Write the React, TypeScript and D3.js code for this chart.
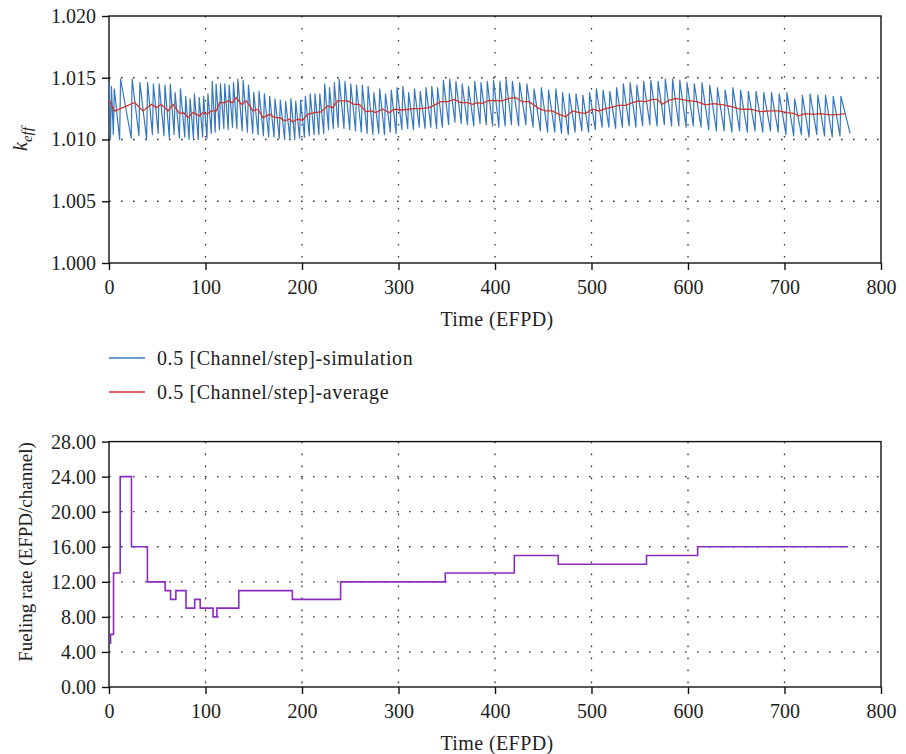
import React, { useEffect, useRef } from "react";
import * as d3 from "d3";

// k_eff simulation: sawtooth peaks (just after each refuelling) and troughs (just before)
const peakDays = [0, 2.5, 5.5, 12, 24, 32, 40, 46, 52, 58, 63.5, 68.5, 74, 79.5, 84, 88.5, 93.5, 98, 102.5, 107, 111, 115.5, 120, 124.5, 129, 133.5, 139, 144.5, 150, 155.5, 161, 166.5, 172, 177.5, 183, 188.5, 193.5, 198.5, 203.5, 208.5, 213.5, 218.5, 223.5, 228.5, 233.5, 238.5, 244.5, 250.5, 256.5, 262.5, 268.5, 274.5, 280.5, 286.5, 292.5, 298.5, 304.5, 310.5, 316.5, 322.5, 328.5, 334.5, 340.5, 346.5, 353, 359.5, 366, 372.5, 379, 385.5, 392, 398.5, 405, 411.5, 418, 425.5, 433, 440.5, 448, 455.5, 463, 470, 477, 484, 491, 498, 505, 512, 519, 526, 533, 540, 547, 554, 561.5, 569, 576.5, 584, 591.5, 599, 606.5, 614.5, 622.5, 630.5, 638.5, 646.5, 654.5, 662.5, 670.5, 678.5, 686.5, 694.5, 702.5, 710.5, 718.5, 726.5, 734.5, 742.5, 750.5, 758.5];
const peakK = [1.0146, 1.0143, 1.0141, 1.0149, 1.0149, 1.0146, 1.0146, 1.0145, 1.0145, 1.0144,
  1.0145, 1.0138, 1.0141, 1.0135, 1.0133, 1.0137, 1.0134, 1.0135, 1.0137, 1.0147,
  1.0145, 1.0145, 1.0145, 1.0144, 1.0146, 1.0149, 1.0148, 1.0144, 1.0138, 1.0139,
  1.0137, 1.0135, 1.0133, 1.0132, 1.0131, 1.0133, 1.0131, 1.0132, 1.0135, 1.0137,
  1.0137, 1.0137, 1.0145, 1.0142, 1.0146, 1.0149, 1.0147, 1.0145, 1.0144, 1.0144,
  1.0143, 1.0138, 1.0141, 1.0137, 1.014, 1.0142, 1.0143, 1.0138, 1.0141, 1.0139,
  1.0142, 1.0143, 1.0142, 1.0148, 1.0149, 1.0147, 1.0145, 1.0143, 1.0147, 1.0146,
  1.0147, 1.0148, 1.0147, 1.0149, 1.0147, 1.0146, 1.0145, 1.0141, 1.0142, 1.014,
  1.0141, 1.0138, 1.0137, 1.0137, 1.0136, 1.0138, 1.0141, 1.014, 1.0139, 1.0142,
  1.0145, 1.0146, 1.0144, 1.0147, 1.0148, 1.0147, 1.0149, 1.0149, 1.0148, 1.0146,
  1.0145, 1.0146, 1.0144, 1.0142, 1.014, 1.0142, 1.014, 1.0139, 1.0139, 1.0138,
  1.0138, 1.0137, 1.0138, 1.0133, 1.0136, 1.0137, 1.0136, 1.0136, 1.0135, 1.0135];
const troughDays = [1.5, 4.5, 11, 23, 31, 39, 45, 51, 57, 62.5, 67.5, 73, 78.5, 83, 87.5, 92.5, 97, 101.5, 106, 110, 114.5, 119, 123.5, 128, 132.5, 138, 143.5, 149, 154.5, 160, 165.5, 171, 176.5, 182, 187.5, 192.5, 197.5, 202.5, 207.5, 212.5, 217.5, 222.5, 227.5, 232.5, 237.5, 243.5, 249.5, 255.5, 261.5, 267.5, 273.5, 279.5, 285.5, 291.5, 297.5, 303.5, 309.5, 315.5, 321.5, 327.5, 333.5, 339.5, 345.5, 352, 358.5, 365, 371.5, 378, 384.5, 391, 397.5, 404, 410.5, 417, 424.5, 432, 439.5, 447, 454.5, 462, 469, 476, 483, 490, 497, 504, 511, 518, 525, 532, 539, 546, 553, 560.5, 568, 575.5, 583, 590.5, 598, 605.5, 613.5, 621.5, 629.5, 637.5, 645.5, 653.5, 661.5, 669.5, 677.5, 685.5, 693.5, 701.5, 709.5, 717.5, 725.5, 733.5, 741.5, 749.5, 757.5, 768];
const troughK = [1.0101, 1.0104, 1.01, 1.0101, 1.0103, 1.01, 1.0104, 1.0105, 1.0103, 1.0101,
  1.0104, 1.0101, 1.0102, 1.01, 1.0101, 1.01, 1.0102, 1.0101, 1.0105, 1.0106,
  1.0108, 1.0109, 1.0108, 1.011, 1.0109, 1.0107, 1.0106, 1.0105, 1.0104, 1.0103,
  1.0102, 1.0102, 1.0101, 1.01, 1.0101, 1.01, 1.0101, 1.0102, 1.0103, 1.0104,
  1.0104, 1.0105, 1.0108, 1.0109, 1.011, 1.0109, 1.0108, 1.0107, 1.0106, 1.0105,
  1.0104, 1.0105, 1.0104, 1.0106, 1.0105, 1.0108, 1.0109, 1.0108, 1.011, 1.0109,
  1.011, 1.0109, 1.011, 1.0112, 1.0114, 1.0113, 1.0112, 1.0111, 1.0113, 1.0112,
  1.0111, 1.011, 1.0111, 1.0112, 1.0111, 1.0112, 1.011, 1.0107, 1.0106, 1.0106,
  1.0105, 1.0104, 1.0106, 1.0107, 1.0106, 1.0108, 1.011, 1.011, 1.0109, 1.011,
  1.0111, 1.011, 1.0111, 1.0112, 1.0111, 1.0112, 1.0111, 1.0111, 1.011, 1.0111,
  1.011, 1.0108, 1.0107, 1.0107, 1.0106, 1.0107, 1.0106, 1.0107, 1.0106, 1.0107,
  1.0106, 1.0104, 1.0103, 1.0104, 1.0102, 1.0104, 1.0103, 1.0102, 1.0103, 1.0105];

// k_eff running average
const averageDays = [0, 5.9, 26.6, 35.2, 43.9, 49, 54.2, 61.1, 66.3, 73.2, 77.4, 81.8, 87, 93.9, 97.4, 101.5, 106, 111.2, 114.6, 119.8, 123.3, 127.8, 131.9, 137.1, 142.3, 149.2, 154.4, 159.6, 166.5, 171.7, 176.9, 182.1, 187.3, 190.3, 195.5, 200.6, 205.8, 212.7, 219.6, 226.5, 231.7, 236.9, 247.3, 254.2, 259.4, 266.3, 271.5, 276.6, 283.5, 290.4, 295.6, 304.3, 316.4, 323.3, 331.9, 338.8, 344, 350.9, 357.8, 364.7, 371.6, 376.8, 382, 386.9, 393.8, 407.6, 414.5, 421.4, 428.4, 435.3, 445.6, 452.5, 459.4, 466.4, 473.3, 480.2, 487.1, 494, 500.9, 507.8, 514.7, 521.6, 528.5, 535.4, 542.3, 549.2, 556.2, 563.1, 568.2, 573.4, 580.3, 587.2, 599, 609.3, 618, 626.6, 637, 647.3, 654.2, 664.6, 675, 685.3, 694, 702.6, 709.5, 714.7, 721.6, 730.2, 737.1, 747.5, 757.9, 763];
const averageK = [1.0132, 1.0123, 1.013, 1.01231, 1.01285, 1.01258, 1.01285, 1.01231, 1.01285, 1.0121, 1.01218, 1.01177, 1.01218, 1.01191, 1.01218, 1.01204, 1.01231, 1.01231, 1.01298, 1.01298, 1.01312, 1.01298, 1.01339, 1.01285, 1.01312, 1.01231, 1.01245, 1.01177, 1.01204, 1.01177, 1.01177, 1.01151, 1.01164, 1.01142, 1.01164, 1.01156, 1.01204, 1.01218, 1.01223, 1.01272, 1.01258, 1.01312, 1.01312, 1.01285, 1.01285, 1.01226, 1.01231, 1.01218, 1.01245, 1.01218, 1.01245, 1.01239, 1.0125, 1.0125, 1.01258, 1.01285, 1.01306, 1.01306, 1.01325, 1.01298, 1.01298, 1.01285, 1.01298, 1.01293, 1.01317, 1.01312, 1.01333, 1.01339, 1.01306, 1.01306, 1.0125, 1.01231, 1.01231, 1.01204, 1.01185, 1.01231, 1.01218, 1.01212, 1.01245, 1.01231, 1.0125, 1.01263, 1.01277, 1.01277, 1.01298, 1.01312, 1.01306, 1.01325, 1.01325, 1.01285, 1.01317, 1.01333, 1.01317, 1.01306, 1.0128, 1.0129, 1.0128, 1.01263, 1.01245, 1.01245, 1.01226, 1.01231, 1.01231, 1.01218, 1.01212, 1.01191, 1.0121, 1.01204, 1.0121, 1.01199, 1.01204, 1.0121];

// fueling rate steps (value holds from the given day onwards)
const rateDays = [0.5, 1.6, 4.7, 11.6, 23.3, 39.8, 58.2, 63.8, 69.3, 79.8, 88.8, 94.5, 107.8, 111.8, 134.5, 190, 240, 348.5, 420, 465.5, 557, 610, 766];
const rateValues = [5, 6, 13, 24, 16, 12, 11, 10, 11, 9, 10, 9, 8, 9, 11, 10, 12, 13, 15, 14, 15, 16, 16];

const xTicks = [0, 100, 200, 300, 400, 500, 600, 700, 800];
const kTicks = [1.0, 1.005, 1.01, 1.015, 1.02];
const rateTicks = [0, 4, 8, 12, 16, 20, 24, 28];
const legendLabels = ["0.5 [Channel/step]-simulation", "0.5 [Channel/step]-average"];

const FONT = "'Liberation Serif', 'Times New Roman', serif";
const BLUE = "#3677c0";
const RED = "#d0352b";
const PURPLE = "#8a2cbf";

const App = () => {
  const svgRef = useRef<SVGSVGElement>(null);

  useEffect(() => {
    const svg = d3.select(svgRef.current);
    svg.selectAll("*").remove();

    const x = d3.scaleLinear().domain([0, 800]).range([109, 881]);
    const yK = d3.scaleLinear().domain([1.0, 1.02]).range([263, 16]);
    const yR = d3.scaleLinear().domain([0, 28]).range([687, 441.6]);

    const drawPanel = (y: d3.ScaleLinear<number, number>, yTicks: number[], fmt: (v: number) => string) => {
      const [yb, yt] = y.range();
      const g = svg.append("g");
      // dotted grid
      g.selectAll(".vg")
        .data(xTicks.slice(1, -1))
        .join("line")
        .attr("x1", (d) => x(d)).attr("x2", (d) => x(d))
        .attr("y1", yt).attr("y2", yb)
        .attr("stroke", "#333").attr("stroke-width", 1.3)
        .attr("stroke-dasharray", "1.6,10.4");
      g.selectAll(".hg")
        .data(yTicks.slice(1, -1))
        .join("line")
        .attr("x1", x(0)).attr("x2", x(800))
        .attr("y1", (d) => y(d)).attr("y2", (d) => y(d))
        .attr("stroke", "#333").attr("stroke-width", 1.3)
        .attr("stroke-dasharray", "1.6,10.4");

      const ax = g.append("g")
        .attr("transform", `translate(0,${yb})`)
        .call(d3.axisBottom(x).tickValues(xTicks).tickFormat(d3.format("d")).tickSize(7).tickPadding(10).tickSizeOuter(0));
      const ay = g.append("g")
        .attr("transform", `translate(${x(0)},0)`)
        .call(d3.axisLeft(y).tickValues(yTicks).tickFormat(fmt as any).tickSize(7).tickPadding(6).tickSizeOuter(0));
      [ax, ay].forEach((a) => {
        a.select(".domain").remove();
        a.selectAll("line").attr("stroke", "#111").attr("stroke-width", 1.4);
        a.selectAll("text").attr("font-family", FONT).attr("font-size", 20).attr("fill", "#222");
      });

      g.append("rect")
        .attr("x", x(0)).attr("y", yt)
        .attr("width", x(800) - x(0)).attr("height", yb - yt)
        .attr("fill", "none").attr("stroke", "#111").attr("stroke-width", 1.4);
      return g;
    };

    // top panel
    const top = drawPanel(yK, kTicks, d3.format(".3f"));
    const simPoints: [number, number][] = [];
    peakDays.forEach((d, i) => {
      simPoints.push([d, peakK[i]]);
      simPoints.push([troughDays[i], troughK[i]]);
    });
    const kLine = d3.line<[number, number]>().x((d) => x(d[0])).y((d) => yK(d[1]));
    top.append("path").attr("d", kLine(simPoints)).attr("fill", "none")
      .attr("stroke", BLUE).attr("stroke-width", 1.2).attr("stroke-linejoin", "round");
    top.append("path").attr("d", kLine(averageDays.map((d, i) => [d, averageK[i]] as [number, number])))
      .attr("fill", "none").attr("stroke", RED).attr("stroke-width", 1.3);

    // bottom panel
    const bottom = drawPanel(yR, rateTicks, d3.format(".2f"));
    const rLine = d3.line<[number, number]>().x((d) => x(d[0])).y((d) => yR(d[1])).curve(d3.curveStepAfter);
    bottom.append("path").attr("d", rLine(rateDays.map((d, i) => [d, rateValues[i]] as [number, number])))
      .attr("fill", "none").attr("stroke", PURPLE).attr("stroke-width", 1.6);

    // axis titles
    const label = (tx: number, ty: number, rot: number) =>
      svg.append("text").attr("transform", `translate(${tx},${ty}) rotate(${rot})`)
        .attr("text-anchor", "middle").attr("font-family", FONT).attr("font-size", 20).attr("fill", "#222");
    label(497, 326, 0).attr("letter-spacing", 0.4).text("Time (EFPD)");
    label(497, 750, 0).attr("letter-spacing", 0.4).text("Time (EFPD)");
    label(32, 552, -90).attr("font-size", 19).text("Fueling rate (EFPD/channel)");
    const kl = label(27, 139, -90).attr("font-style", "italic");
    kl.append("tspan").text("k");
    kl.append("tspan").attr("dy", 5).attr("font-size", 15).text("eff");

    // legend
    const colors = [BLUE, RED];
    const lg = svg.append("g");
    legendLabels.forEach((t, i) => {
      const ly = 358 + i * 34;
      lg.append("line").attr("x1", 109).attr("x2", 145).attr("y1", ly).attr("y2", ly)
        .attr("stroke", colors[i]).attr("stroke-width", 1.4);
      lg.append("text").attr("x", 157).attr("y", ly + 7).attr("font-family", FONT)
        .attr("font-size", 20).attr("letter-spacing", 0.6).attr("fill", "#222").text(t);
    });
  }, []);

  return (
    <svg ref={svgRef} width={906} height={754}
      style={{ position: "absolute", left: 0, top: 0, background: "#fff" }} />
  );
};

export default App;
